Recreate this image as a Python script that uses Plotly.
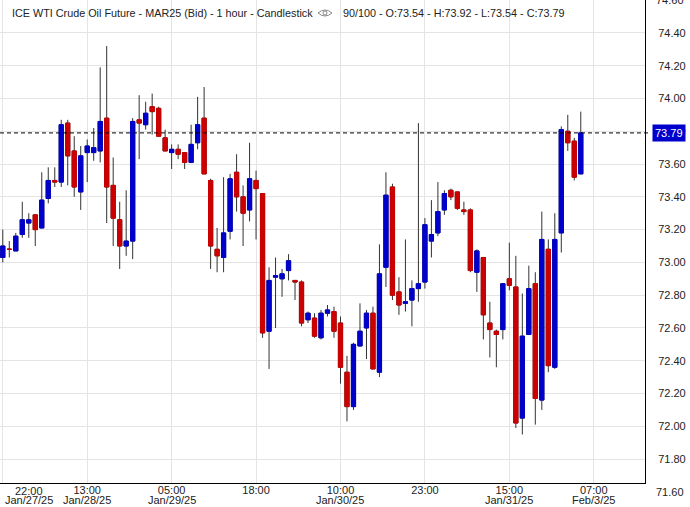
import plotly.graph_objects as go

# ---------------- data (hourly candles, index 0..89) ----------------
opens = [73.03, 73.08, 73.07, 73.17, 73.24, 73.29, 73.21, 73.39, 73.50, 73.49,
         73.85, 73.68, 73.43, 73.67, 73.67, 73.68, 73.88, 73.47, 73.26, 73.10,
         73.13, 73.87, 73.84, 73.95, 73.94, 73.76, 73.67, 73.69, 73.67, 73.61,
         73.73, 73.88, 73.50, 73.08, 73.03, 73.19, 73.55, 73.40, 73.32, 73.50,
         73.42, 72.58, 72.91, 72.90, 72.95, 72.89, 72.88, 72.65, 72.66, 72.54,
         72.69, 72.70, 72.63, 72.33, 72.12, 72.49, 72.60, 72.69, 72.33, 72.97,
         73.46, 72.82, 72.75, 72.77, 72.84, 72.88, 73.13, 73.18, 73.32, 73.44,
         73.43, 73.32, 73.32, 72.94, 73.03, 72.63, 72.58, 72.59, 72.90, 72.85,
         72.05, 72.56, 72.87, 72.16, 73.08, 72.36, 73.18, 73.80, 73.74, 73.54]
highs = [73.20, 73.13, 73.18, 73.37, 73.30, 73.29, 73.55, 73.58, 73.58, 73.87,
         73.87, 73.77, 73.71, 73.75, 73.82, 74.19, 74.32, 73.64, 73.37, 73.44,
         73.88, 74.02, 73.98, 74.03, 73.95, 73.81, 73.72, 73.72, 73.67, 73.84,
         74.01, 74.07, 73.51, 73.21, 73.52, 73.54, 73.66, 73.47, 73.73, 73.56,
         73.42, 72.97, 73.03, 72.96, 73.05, 72.89, 72.89, 72.70, 72.69, 72.71,
         72.74, 72.73, 72.67, 72.43, 72.51, 72.75, 72.71, 72.73, 73.11, 73.55,
         73.48, 72.91, 73.14, 72.89, 73.85, 73.27, 73.38, 73.49, 73.44, 73.45,
         73.43, 73.37, 73.33, 73.08, 73.03, 72.76, 72.59, 72.87, 73.12, 73.04,
         72.81, 72.98, 72.94, 73.31, 73.14, 73.30, 73.83, 73.90, 73.76, 73.92]
lows = [73.00, 73.03, 73.07, 73.15, 73.15, 73.10, 73.21, 73.36, 73.46, 73.46,
        73.47, 73.40, 73.32, 73.49, 73.62, 73.61, 73.24, 73.10, 72.96, 73.04,
        73.02, 73.63, 73.81, 73.78, 73.77, 73.68, 73.57, 73.63, 73.57, 73.61,
        73.69, 73.54, 72.96, 72.94, 72.94, 73.14, 73.31, 73.10, 73.25, 73.14,
        72.54, 72.35, 72.60, 72.79, 72.89, 72.77, 72.61, 72.63, 72.54, 72.53,
        72.67, 72.54, 72.26, 72.03, 72.10, 72.49, 72.41, 72.35, 72.30, 72.85,
        72.77, 72.68, 72.70, 72.61, 72.76, 72.84, 73.03, 73.16, 73.29, 73.38,
        73.32, 73.29, 72.94, 72.82, 72.53, 72.42, 72.36, 72.53, 72.83, 71.99,
        71.95, 72.56, 72.01, 72.10, 72.33, 72.35, 73.06, 73.68, 73.50, 73.54]
closes = [73.10, 73.08, 73.16, 73.26, 73.26, 73.20, 73.38, 73.50, 73.49, 73.84,
          73.65, 73.46, 73.65, 73.71, 73.70, 73.86, 73.46, 73.27, 73.10, 73.13,
          73.86, 73.85, 73.91, 73.92, 73.77, 73.68, 73.69, 73.66, 73.61, 73.72,
          73.84, 73.54, 73.10, 73.04, 73.18, 73.51, 73.40, 73.30, 73.51, 73.45,
          72.57, 72.89, 72.92, 72.93, 73.01, 72.88, 72.63, 72.69, 72.55, 72.69,
          72.71, 72.58, 72.36, 72.12, 72.50, 72.58, 72.69, 72.35, 72.93, 73.41,
          72.80, 72.74, 72.76, 72.84, 72.87, 73.23, 73.17, 73.31, 73.42, 73.40,
          73.33, 73.31, 72.95, 73.07, 72.68, 72.59, 72.56, 72.87, 72.86, 72.02,
          72.55, 72.84, 72.17, 73.14, 72.37, 73.14, 73.81, 73.73, 73.52, 73.79]
bar_index = list(range(len(closes)))

# x-axis tick labels (bar index -> time / date)
tick_idx = [0, 13, 26, 39, 52, 65, 78, 91]
tick_time = ["22:00", "13:00", "05:00", "18:00", "10:00", "23:00", "15:00", "07:00"]
tick_date = ["Jan/27/25", "Jan/28/25", "Jan/29/25", "", "Jan/30/25", "", "Jan/31/25", "Feb/3/25"]

title_text = "ICE WTI Crude Oil Future - MAR25 (Bid) - 1 hour - Candlestick"
bars_shown = "90/100"

# ---------------- styling ----------------
BLUE = "#0000cc"
RED = "#cc0000"
WICK = "#333333"
GRID = "#e4e4e4"
TXT = "#222222"
FONT = "Liberation Sans, Arial, sans-serif"

y_lo, y_hi = 71.654, 74.601
x_lo, x_hi = -0.43, 98.89
W, H = 690, 507
ML, MR, MT, MB = 0, 45, 0, 24
plot_w = W - ML - MR
plot_h = H - MT - MB

fig = go.Figure()

# wicks (dark)
fig.add_trace(go.Candlestick(
    x=bar_index, open=opens, high=highs, low=lows, close=closes,
    increasing=dict(line=dict(color=WICK, width=1), fillcolor=WICK),
    decreasing=dict(line=dict(color=WICK, width=1), fillcolor=WICK),
    whiskerwidth=0, hoverinfo="skip", showlegend=False))

# coloured bodies on top
body_hi = [max(o, c) for o, c in zip(opens, closes)]
body_lo = [min(o, c) for o, c in zip(opens, closes)]
fig.add_trace(go.Candlestick(
    x=bar_index, open=opens, high=body_hi, low=body_lo, close=closes,
    increasing=dict(line=dict(color=BLUE, width=1), fillcolor=BLUE),
    decreasing=dict(line=dict(color=RED, width=1), fillcolor=RED),
    whiskerwidth=0, hoverinfo="skip", showlegend=False))

last = closes[-1]

annotations = []
# title
annotations.append(dict(
    text=title_text, xref="paper", yref="paper", x=10 / plot_w, y=1,
    xanchor="left", yanchor="middle", yshift=-13, showarrow=False,
    font=dict(family=FONT, size=10.8, color=TXT)))
annotations.append(dict(
    text=f"{bars_shown} - O:{opens[-1]:.2f} - H:{highs[-1]:.2f} - L:{lows[-1]:.2f} - C:{closes[-1]:.2f}",
    xref="paper", yref="paper", x=341 / plot_w, y=1,
    xanchor="left", yanchor="middle", yshift=-13, showarrow=False,
    font=dict(family=FONT, size=10.8, color=TXT)))

# last price label on right axis
annotations.append(dict(
    text=f"{last:.2f}", xref="paper", yref="y", x=1, y=last,
    xanchor="left", yanchor="middle", xshift=7, showarrow=False,
    bgcolor=BLUE, borderpad=2,
    font=dict(family=FONT, size=11, color="white")))

# y labels just outside the visible range (partly cut in the reference)
for v in (71.60, 74.60):
    annotations.append(dict(
        text=f"{v:.2f}", xref="paper", yref="paper", x=1,
        y=(v - y_lo) / (y_hi - y_lo), xanchor="left", yanchor="middle",
        xshift=9, showarrow=False, font=dict(family=FONT, size=11, color=TXT)))

# date lines under the time labels
date_y = -(500 - plot_h) / plot_h
for i, (ti, tt, td) in enumerate(zip(tick_idx, tick_time, tick_date)):
    if i == 0:
        xpos = 28.5 / plot_w
        annotations.append(dict(text=tt, xref="paper", yref="paper", x=xpos,
                                y=-(490.5 - plot_h) / plot_h, xanchor="center",
                                yanchor="middle", showarrow=False,
                                font=dict(family=FONT, size=11, color=TXT)))
        annotations.append(dict(text=td, xref="paper", yref="paper", x=xpos,
                                y=date_y, xanchor="center", yanchor="middle",
                                showarrow=False,
                                font=dict(family=FONT, size=11, color=TXT)))
    elif td:
        annotations.append(dict(text=td, xref="x", yref="paper", x=ti,
                                y=date_y, xanchor="center", yanchor="middle",
                                showarrow=False,
                                font=dict(family=FONT, size=11, color=TXT)))

shapes = [
    # dashed last-price line
    dict(type="line", xref="paper", yref="y", x0=0, x1=1 + 5 / plot_w,
         y0=last, y1=last, line=dict(color="black", width=1, dash="4px,3px"),
         layer="above"),
    # eye icon
    dict(type="path", xref="paper", yref="paper", xsizemode="pixel", ysizemode="pixel",
         xanchor=0, yanchor=1,
         path="M 318,-13 Q 325,-7 332,-13 Q 325,-19 318,-13 Z",
         line=dict(color="#888888", width=1), fillcolor="rgba(0,0,0,0)", layer="above"),
    dict(type="circle", xref="paper", yref="paper", xsizemode="pixel", ysizemode="pixel",
         xanchor=0, yanchor=1, x0=323, x1=327, y0=-11, y1=-15,
         line=dict(color="#888888", width=1), fillcolor="rgba(0,0,0,0)", layer="above"),
]

fig.update_layout(
    width=W, height=H,
    margin=dict(l=ML, r=MR, t=MT, b=MB, pad=0),
    paper_bgcolor="white", plot_bgcolor="white",
    boxmode="overlay", boxgap=0.35, boxgroupgap=0,
    showlegend=False,
    font=dict(family=FONT, size=11, color=TXT),
    annotations=annotations, shapes=shapes,
    xaxis=dict(
        range=[x_lo, x_hi], rangeslider=dict(visible=False),
        tickmode="array", tickvals=tick_idx,
        ticktext=[""] + tick_time[1:],
        showgrid=True, gridcolor=GRID, gridwidth=1, zeroline=False,
        showline=True, linecolor="black", linewidth=1, ticks="",
        ticklabelstandoff=-3,
        tickfont=dict(family=FONT, size=11, color=TXT),
        automargin=False,
    ),
    yaxis=dict(
        range=[y_lo, y_hi], side="right", tick0=71.6, dtick=0.2, tickformat=".2f",
        showgrid=True, gridcolor=GRID, gridwidth=1, zeroline=False,
        showline=True, linecolor="black", linewidth=1, ticks="",
        ticklabelstandoff=10, automargin=False,
        tickfont=dict(family=FONT, size=11, color=TXT),
    ),
)

fig.write_html("out.html", config={"displayModeBar": False},
               post_script="document.body.style.margin='0';document.body.style.overflow='hidden';")
